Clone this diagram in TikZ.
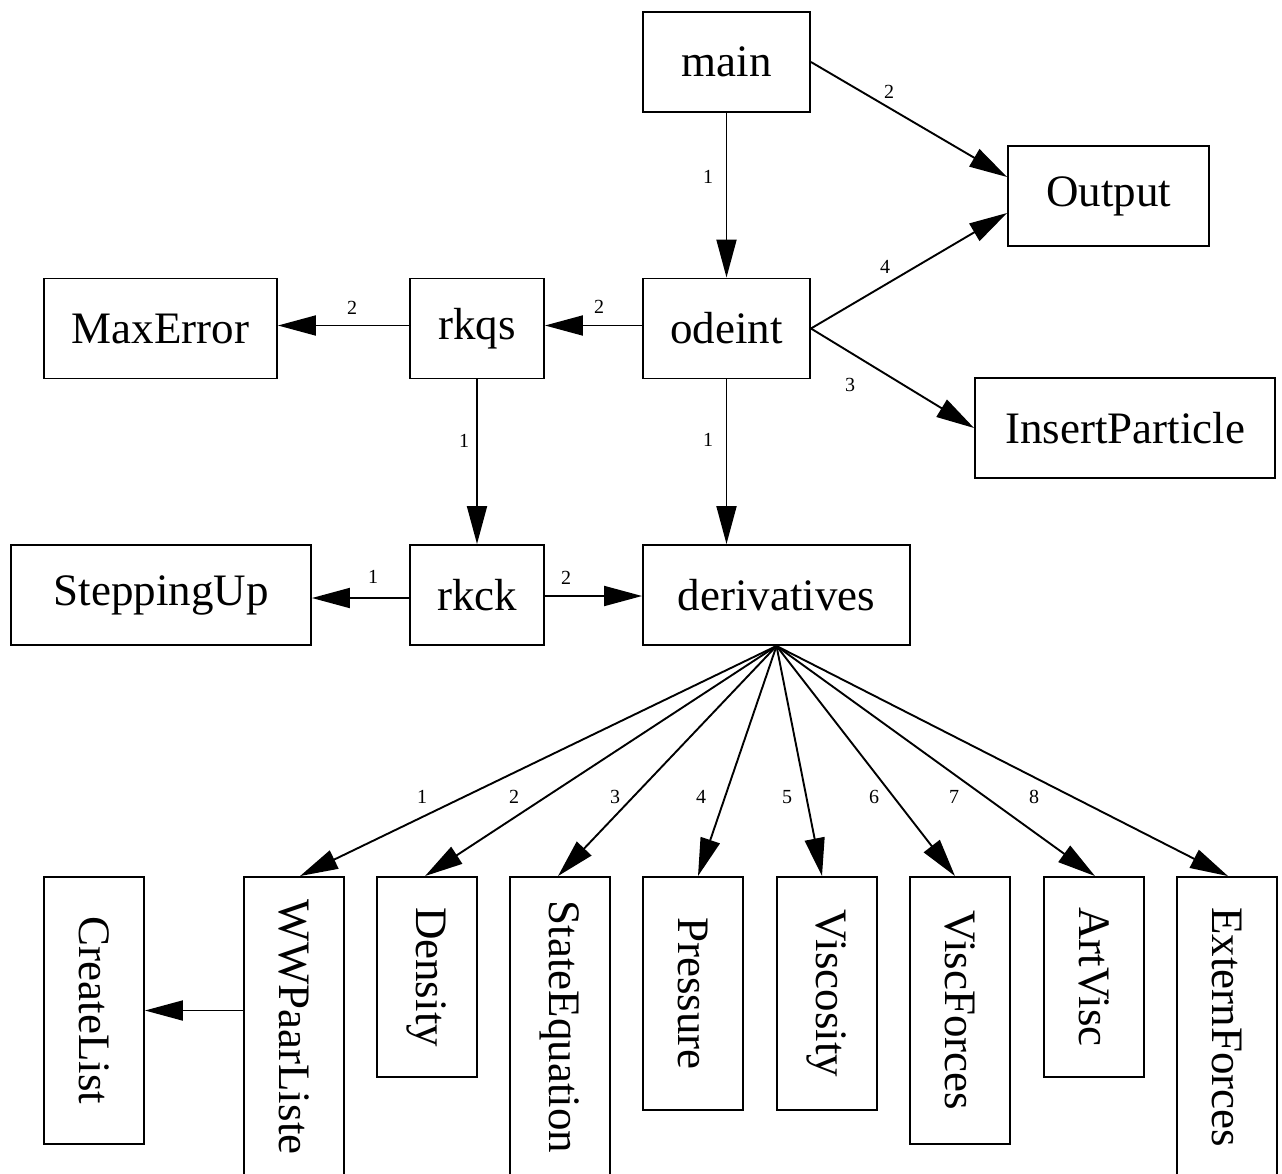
\documentclass[tikz,border=0pt]{standalone}
\usepackage{fontspec}
\setmainfont{Liberation Serif}
\usetikzlibrary{arrows.meta,calc}
\begin{document}
\begin{tikzpicture}[x=1pt,y=-1pt,
  box/.style={draw, line width=1.9pt, inner sep=0pt, font=\fontsize{45}{52}\selectfont},
  vbox/.style={box, rotate=-90},
  elabel/.style={inner sep=0pt, font=\fontsize{20}{24}\selectfont},
  call/.style={line width=1.9pt, -{Triangle[length=38pt,width=20pt]}}]
\clip (0,0) rectangle (1282,1173);
\fill[white] (0,0) rectangle (1282,1173);

% upper nodes
\node[box, minimum width=167pt, minimum height=100pt] (main)   at (726.5,62)  {main};
\node[box, minimum width=201pt, minimum height=100pt] (out)    at (1108.5,196) {Output};
\node[box, minimum width=167pt, minimum height=100pt] (odeint) at (726.5,328.5) {odeint};
\node[box, minimum width=134pt, minimum height=100pt] (rkqs)   at (477,328.5) {rkqs};
\node[box, minimum width=233pt, minimum height=100pt] (maxerr) at (160.5,328.5) {MaxError};
\node[box, minimum width=300pt, minimum height=100pt] (ins)    at (1125,428) {InsertParticle};
\node[box, minimum width=300pt, minimum height=100pt] (stepup) at (161,595) {SteppingUp};
\node[box, minimum width=134pt, minimum height=100pt] (rkck)   at (477,595) {rkck};
\node[box, minimum width=267pt, minimum height=100pt] (deriv)  at (776.5,595) {derivatives};

% lower (rotated) nodes
\node[vbox, minimum width=267pt, minimum height=100pt] (create) at (94,1010.5)  {CreateList};
\node[vbox, minimum width=300pt, minimum height=100pt] (ww)     at (294,1027)   {WWPaarListe};
\node[vbox, minimum width=200pt, minimum height=100pt] (dens)   at (427,977)    {Density};
\node[vbox, minimum width=300pt, minimum height=100pt] (steq)   at (560,1027)   {StateEquation};
\node[vbox, minimum width=233pt, minimum height=100pt] (press)  at (693,993.5)  {Pressure};
\node[vbox, minimum width=233pt, minimum height=100pt] (visc)   at (827,993.5)  {Viscosity};
\node[vbox, minimum width=267pt, minimum height=100pt] (viscf)  at (960,1010.5) {ViscForces};
\node[vbox, minimum width=200pt, minimum height=100pt] (artv)   at (1094,977)   {ArtVisc};
\node[vbox, minimum width=300pt, minimum height=100pt] (extf)   at (1227,1027)  {ExternForces};

% connectors
\draw[call] (main) -- (odeint);
\draw[call] (main.east) -- ($(out.west)+(0,-19)$);
\draw[call] (odeint.east) -- ($(out.west)+(0,17)$);
\draw[call] (odeint.east) -- (ins.west);
\draw[call] ($(odeint.west)+(0,-3)$) -- ($(rkqs.east)+(0,-3)$);
\draw[call] ($(rkqs.west)+(0,-3)$) -- ($(maxerr.east)+(0,-3)$);
\draw[call] (rkqs) -- (rkck);
\draw[call] (odeint.south) -- (odeint.south |- deriv.north);
\draw[call] ($(rkck.west)+(0,3)$) -- ($(stepup.east)+(0,3)$);
\draw[call] ($(rkck.east)+(0,1)$) -- ($(deriv.west)+(0,1)$);

\draw[call] (deriv.south) -- ($(ww.west)+(6,0)$);
\draw[call] (deriv.south) -- ($(dens.west)+(-2,0)$);
\draw[call] (deriv.south) -- ($(steq.west)+(-2,0)$);
\draw[call] (deriv.south) -- ($(press.west)+(5,0)$);
\draw[call] (deriv.south) -- ($(visc.west)+(-5,0)$);
\draw[call] (deriv.south) -- ($(viscf.west)+(-5,0)$);
\draw[call] (deriv.south) -- ($(artv.west)+(1,0)$);
\draw[call] (deriv.south) -- ($(extf.west)+(1,0)$);

\draw[call] (ww.south |- create.north) -- (create.north);

% edge labels
\node[elabel] (la) at (708,177) {1};
\node[elabel] (lb) at (889,92)  {2};
\node[elabel] (lc) at (885,267) {4};
\node[elabel] (ld) at (850,385) {3};
\node[elabel] (le) at (599,307) {2};
\node[elabel] (lf) at (352,308) {2};
\node[elabel] (lg) at (464,441) {1};
\node[elabel] (lh) at (708,440) {1};
\node[elabel] (li) at (373,577) {1};
\node[elabel] (lj) at (566,578) {2};
\node[elabel] (m1) at (422,797)  {1};
\node[elabel] (m2) at (514,797)  {2};
\node[elabel] (m3) at (615,797)  {3};
\node[elabel] (m4) at (701,797)  {4};
\node[elabel] (m5) at (787,797)  {5};
\node[elabel] (m6) at (874,797)  {6};
\node[elabel] (m7) at (954,797)  {7};
\node[elabel] (m8) at (1034,797) {8};
\end{tikzpicture}
\end{document}
